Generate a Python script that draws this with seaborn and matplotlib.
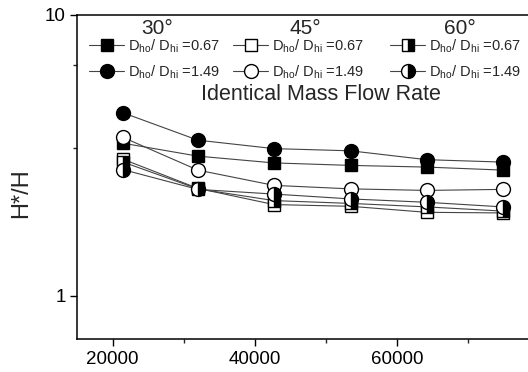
import numpy as np
import matplotlib
matplotlib.use("Agg")
import matplotlib.pyplot as plt
from matplotlib.ticker import FixedLocator, NullFormatter
import seaborn as sns

# mass flow rate positions (x) and H*/H values
flow = [21500, 32000, 42700, 53500, 64200, 74900]

h30_067 = [3.49, 3.14, 2.97, 2.91, 2.87, 2.80]
h30_149 = [4.48, 3.58, 3.34, 3.28, 3.05, 2.99]
h45_067 = [3.06, 2.41, 2.11, 2.08, 1.98, 1.97]
h45_149 = [3.66, 2.80, 2.47, 2.40, 2.37, 2.39]
h60_067 = [2.99, 2.40, 2.18, 2.13, 2.07, 2.00]
h60_149 = [2.81, 2.39, 2.30, 2.21, 2.15, 2.07]

angles = ["30°", "45°", "60°"]
ratio_labels = [r"D$_\mathrm{ho}$/ D$_\mathrm{hi}$ =0.67",
                r"D$_\mathrm{ho}$/ D$_\mathrm{hi}$ =1.49"]

sns.set_style("ticks")
plt.rcParams["font.family"] = ["Liberation Sans", "DejaVu Sans"]
plt.rcParams["mathtext.fontset"] = "custom"
plt.rcParams["mathtext.rm"] = "Liberation Sans"

fig = plt.figure(figsize=(5.28, 3.72), dpi=100)
ax = fig.add_axes([77 / 528, 33 / 372, 462 / 528, 324 / 372])

# (data, marker, fill style, size, face colour)
series = [
    (h30_067, "s", "full", 8.5, "black"),
    (h30_149, "o", "full", 10, "black"),
    (h45_067, "s", "full", 8.5, "white"),
    (h45_149, "o", "full", 10, "white"),
    (h60_067, "s", "right", 8.5, "black"),
    (h60_149, "o", "right", 10, "black"),
]

for vals, mk, fs, ms, fc in series:
    sns.lineplot(x=flow, y=vals, ax=ax, color="#444444", linewidth=0.8,
                 marker=mk, markersize=ms, fillstyle=fs,
                 markerfacecolor=fc, markerfacecoloralt="white",
                 markeredgecolor="black", markeredgewidth=1.0,
                 legend=False, errorbar=None)

ax.set_yscale("log")
ax.set_ylim(0.7, 10)
ax.set_xlim(15000, 80000)
ax.yaxis.set_major_locator(FixedLocator([1, 10]))
ax.set_yticklabels(["1", "10"])
ax.yaxis.set_minor_locator(FixedLocator([3.35, 6.63]))
ax.yaxis.set_minor_formatter(NullFormatter())
ax.set_xticks([20000, 40000, 60000])
ax.set_xticklabels(["20000", "40000", "60000"])
ax.xaxis.set_minor_locator(FixedLocator([30000, 50000, 70000]))

ax.tick_params(which="major", direction="out", length=5, width=1,
               labelsize=13.5, colors="black")
ax.tick_params(which="minor", direction="out", length=3, width=1)
ax.tick_params(axis="x", pad=4)
ax.tick_params(axis="y", pad=3)
for side in ["left", "bottom", "top", "right"]:
    ax.spines[side].set_linewidth(1.1)
    ax.spines[side].set_color("black")

ax.set_xlabel("")
ax.set_ylabel("H*/H", fontsize=17)
ax.yaxis.set_label_coords(-0.098, 0.45)

# three legend columns, one per angle, headers as plain text
lines = ax.lines
lefts = [89, 233, 390]
heads = [157, 305, 460]
for i, ang in enumerate(angles):
    fig.legend(handles=lines[2 * i:2 * i + 2], labels=ratio_labels,
               fontsize=10.5, loc="upper left",
               bbox_to_anchor=(lefts[i] / 528, 1 - 37 / 372),
               frameon=False, borderpad=0, borderaxespad=0,
               handlelength=2.4, handletextpad=0.3, labelspacing=0.6)
    fig.text(heads[i] / 528, 1 - 28 / 372, ang, fontsize=15,
             ha="center", va="center")

fig.text(321 / 528, 1 - 95 / 372, "Identical Mass Flow Rate", fontsize=15.5,
         ha="center", va="center")

fig.savefig("out.png", dpi=100)
